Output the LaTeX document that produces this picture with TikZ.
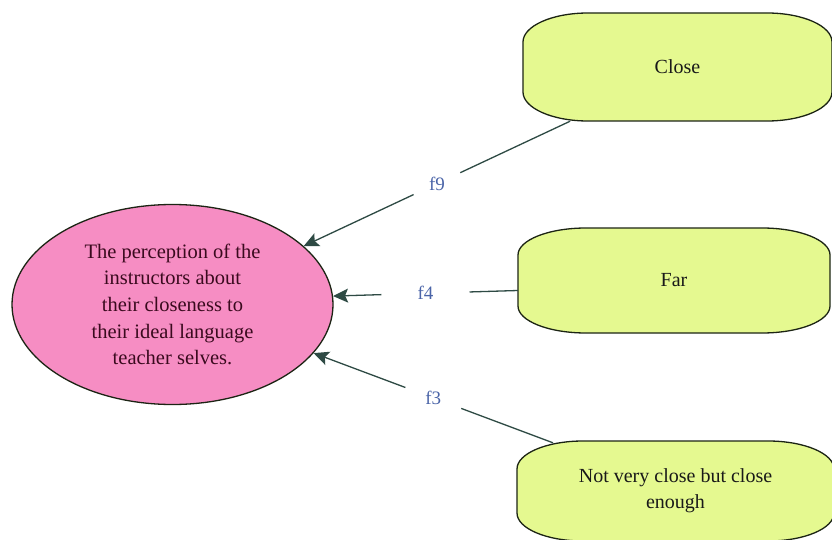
\documentclass[tikz,border=0pt]{standalone}
\usepackage{fontspec}
\setmainfont{Liberation Serif}
\usetikzlibrary{shapes.geometric,calc,arrows.meta}
\definecolor{gfill}{HTML}{E5F990}
\definecolor{pfill}{HTML}{F68DC3}
\definecolor{edgec}{HTML}{2E4A44}
\definecolor{lblc}{HTML}{4A64A8}
\definecolor{outl}{HTML}{1C2414}
\definecolor{ptext}{HTML}{3A0A1E}
\newcommand\greenshape[6]{% L T R B a b
  \draw[gshape] ({#1+#5},#2) -- ({#3-#5},#2)
    .. controls ({#3-#5+0.552*#5},#2) and (#3,{#2+#6-0.552*#6}) .. (#3,{#2+#6})
    -- (#3,{#4-#6})
    .. controls (#3,{#4-#6+0.552*#6}) and ({#3-#5+0.552*#5},#4) .. ({#3-#5},#4)
    -- ({#1+#5},#4)
    .. controls ({#1+#5-0.552*#5},#4) and (#1,{#4-#6+0.552*#6}) .. (#1,{#4-#6})
    -- (#1,{#2+#6})
    .. controls (#1,{#2+#6-0.552*#6}) and ({#1+#5-0.552*#5},#2) .. ({#1+#5},#2) -- cycle;}
\tikzset{
  gshape/.style={draw=outl, line width=1.3pt, fill=gfill},
  gtext/.style={font=\fontsize{20}{26}\selectfont, text=black!90, align=center, inner sep=0pt},
  ell/.style={ellipse, draw=outl, line width=1.3pt, fill=pfill, minimum width=321pt, minimum height=200pt, inner sep=0pt, text=ptext, align=center, font=\fontsize{20.5}{26.7}\selectfont},
  lbl/.style={ellipse, text=lblc, font=\fontsize{19}{22}\selectfont, inner sep=0pt, minimum width=60pt, minimum height=34pt},
  conn/.style={draw=edgec, line width=1.3pt},
  arr/.style={conn, -{Stealth[length=15pt, width=14pt, inset=3pt]}},
}
\begin{document}
\begin{tikzpicture}[x=1pt, y=-1pt]
\useasboundingbox (0,0) rectangle (832,540);
\fill[white] (0,0) rectangle (832,540);
% green boxes
\greenshape{523}{13}{832}{121}{65}{29}
\greenshape{518}{228}{830}{333}{68}{27}
\greenshape{517}{441}{834}{541}{66}{28}
\node[gtext, minimum width=309pt, minimum height=108pt] (close) at (677.5,67) {Close};
\node[gtext, minimum width=312pt, minimum height=105pt] (far) at (674,280.5) {Far};
\node[gtext, minimum width=317pt, minimum height=100pt] (nvc) at (675.5,491) {Not very close but close\\enough};
% ellipse
\node[ell] (main) at (172.5,304.5) {The perception of the\\instructors about\\their closeness to\\their ideal language\\teacher selves.};
% anchors on boxes
\coordinate (s9) at ($(close.south west)!0.153!(close.south east)$);
\coordinate (s4) at ($(far.west)+(0,10)$);
\coordinate (s3) at ($(nvc.north west)!0.114!(nvc.north east)+(0,2)$);
% labels
\node[lbl] (l9) at ($(s9)!0.5!(main.24.7)$) {f9};
\node[lbl, minimum width=88pt] (l4) at ($(s4)!0.5!(main.3.4)$) {f4};
\node[lbl, minimum width=70pt] (l3) at ($(s3)!0.5!(main.-19.9)$) {f3};
% connectors
\draw[conn] (s9) -- (l9);
\draw[arr] (l9) -- (main.24.7);
\draw[conn] (s4) -- (l4);
\draw[arr] (l4) -- (main.3.4);
\draw[conn] (s3) -- (l3);
\draw[arr] (l3) -- (main.-19.9);
\end{tikzpicture}
\end{document}
